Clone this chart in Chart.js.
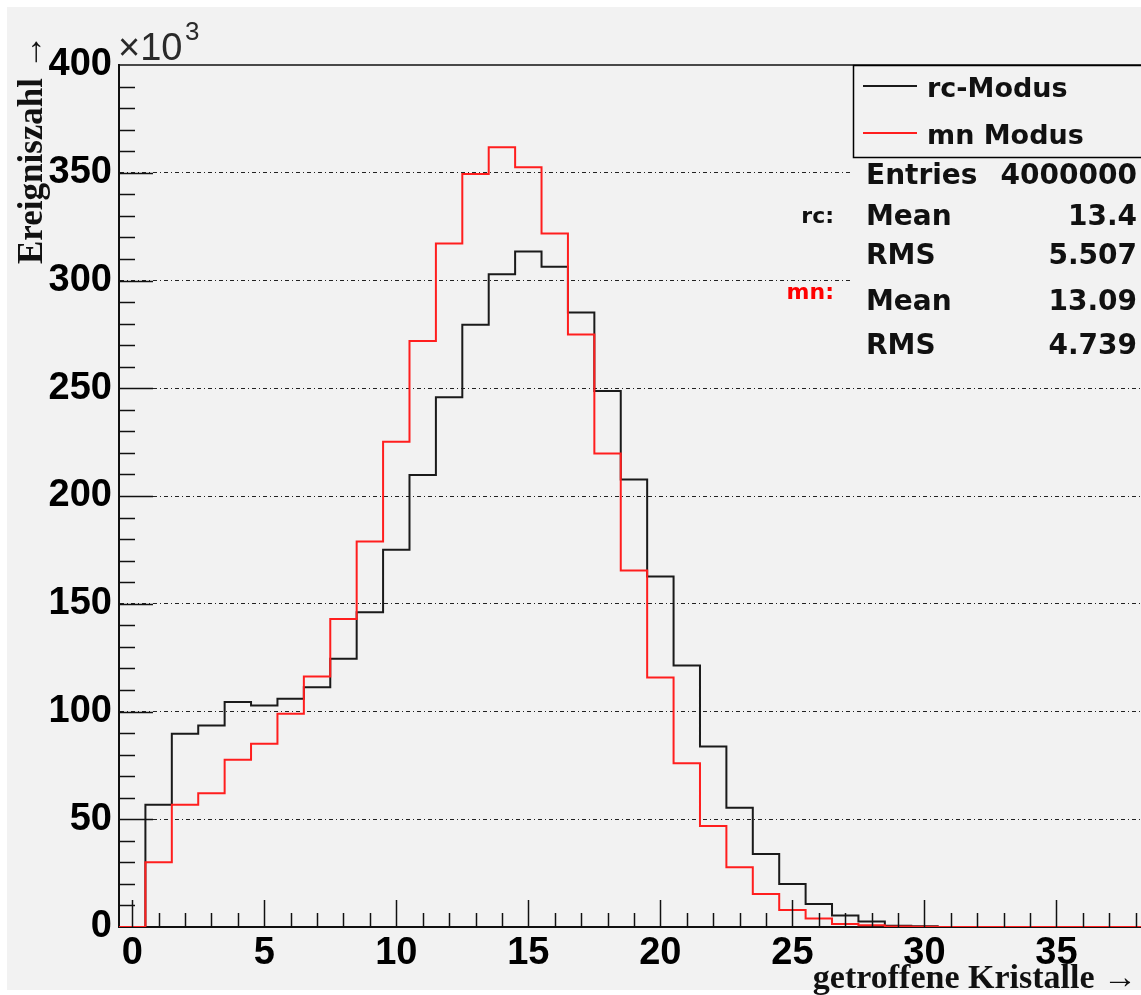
<!DOCTYPE html>
<html>
<head>
<meta charset="utf-8">
<title>getroffene Kristalle</title>
<script src="https://cdn.jsdelivr.net/npm/chart.js@4.4.0/dist/chart.umd.min.js"></script>
<style>
  body { margin: 0; background: #fff; }
  canvas { display: block; }
</style>
</head>
<body>
<canvas id="histChart" width="1141" height="995"></canvas>
<script>
// bin centres (width 1), counts in units of 10^3
let bins = [0, 1, 2, 3, 4, 5, 6, 7, 8, 9, 10, 11, 12, 13, 14, 15, 16, 17, 18, 19,
            20, 21, 22, 23, 24, 25, 26, 27, 28, 29, 30, 31, 32, 33, 34, 35, 36, 37, 38];

let rcCounts = [0, 56.7, 89.7, 93.5, 104.4, 102.8, 105.9, 111.3, 124.5, 146.0,
                175.1, 209.7, 245.8, 279.5, 302.9, 313.4, 306.4, 285.1, 248.7, 207.7,
                162.7, 121.4, 83.8, 55.3, 33.9, 20.0, 10.7, 5.3, 2.5, 0.6, 0.3];

let mnCounts = [0, 30.0, 56.7, 62.1, 77.6, 85.0, 99.0, 116.2, 142.9, 178.9,
                225.2, 271.9, 317.2, 349.4, 361.8, 352.5, 321.8, 275.0, 219.7, 165.4,
                115.8, 76.0, 46.9, 27.7, 15.3, 7.9, 4.0, 1.4, 0.8, 0.2, 0.1,
                0, 0, 0, 0, 0, 0, 0, 0];

let xTicks = [0, 5, 10, 15, 20, 25, 30, 35];
let seriesNames = ['rc-Modus', 'mn Modus'];
let statLabels = ['Entries', 'Mean', 'RMS', 'Mean', 'RMS'];
let statValues = ['4000000', '13.4', '5.507', '13.09', '4.739'];

const RED = '#ff1e1e';
const BLACK = '#1a1a1a';

// histogram outline: one point per left bin edge, last one closes the range
function histPoints(counts) {
    let pts = counts.map((c, i) => ({x: bins[i] - 0.5, y: c}));
    pts.push({x: bins[counts.length - 1] + 0.5, y: 0});
    return pts;
}

function line(c, x1, y1, x2, y2) {
    c.beginPath();
    c.moveTo(x1, y1);
    c.lineTo(x2, y2);
    c.stroke();
}

const rootStyle = {
    id: 'rootStyle',
    beforeDraw(chart) {
        const c = chart.ctx;
        c.save();
        c.fillStyle = '#ffffff';
        c.fillRect(0, 0, chart.width, chart.height);
        c.fillStyle = '#f2f2f2';
        c.fillRect(7, 7, chart.width - 7, 983);
        c.restore();
    },
    afterDatasetsDraw(chart) {
        const c = chart.ctx;
        const a = chart.chartArea;
        const x = chart.scales.x;
        const y = chart.scales.y;
        c.save();
        c.strokeStyle = '#111';
        c.lineWidth = 1.5;

        // top frame line
        line(c, a.left, a.top, a.right, a.top);

        // ticks pointing into the frame
        for (let v = 10; v < 400; v += 10) {
            const py = Math.round(y.getPixelForValue(v)) + 0.5;
            line(c, a.left, py, a.left + (v % 50 === 0 ? 34 : 16), py);
        }
        for (let v = 0; v <= x.max; v++) {
            const px = Math.round(x.getPixelForValue(v)) + 0.5;
            line(c, px, a.bottom, px, a.bottom - (v % 5 === 0 ? 27 : 14));
        }

        // stats box + legend box (cover grid lines)
        c.fillStyle = '#f2f2f2';
        c.fillRect(853, 157, chart.width - 853, 212);
        c.fillRect(853, 65, chart.width - 853, 92);
        c.strokeStyle = '#000';
        c.lineWidth = 1.5;
        c.strokeRect(853.5, 65.5, chart.width, 92);

        // legend entries
        const legendY = [86, 133];
        const legendCol = [BLACK, RED];
        c.font = 'bold 27px "DejaVu Sans"';
        c.textBaseline = 'alphabetic';
        c.textAlign = 'left';
        seriesNames.forEach((name, i) => {
            c.strokeStyle = legendCol[i];
            c.lineWidth = 2;
            line(c, 863, legendY[i], 917, legendY[i]);
            c.fillStyle = '#111';
            c.fillText(name, 927, legendY[i] + 11);
        });

        // statistics
        const rowY = [184, 225, 264, 310, 354];
        c.font = 'bold 28px "DejaVu Sans"';
        c.fillStyle = '#111';
        statLabels.forEach((lab, i) => {
            c.textAlign = 'left';
            c.fillText(lab, 866, rowY[i]);
            c.textAlign = 'right';
            c.fillText(statValues[i], 1137, rowY[i]);
        });
        c.font = 'bold 22px "DejaVu Sans"';
        c.textAlign = 'right';
        c.fillStyle = '#111';
        c.fillText('rc:', 834, 223);
        c.fillStyle = '#ff0000';
        c.fillText('mn:', 834, 299);

        // exponent of the y axis
        c.fillStyle = '#2a2a2a';
        c.textAlign = 'left';
        c.font = '38px "Liberation Sans"';
        c.fillText('\u00d710', 118, 60);
        c.font = '26px "Liberation Sans"';
        c.fillText('3', 185, 40);

        // axis titles
        c.fillStyle = '#111';
        c.font = 'bold 34px "Liberation Serif"';
        c.textAlign = 'right';
        c.fillText('getroffene Kristalle \u2192', 1137, 988);
        c.save();
        c.translate(42, 264);
        c.rotate(-Math.PI / 2);
        c.textAlign = 'left';
        c.font = 'bold 35px "Liberation Serif"';
        c.fillText('Ereigniszahl \u2192', 0, 0);
        c.restore();

        c.restore();
    }
};

let ctx = document.getElementById('histChart').getContext('2d');
let chart = new Chart(ctx, {
    type: 'line',
    data: {
        datasets: [{
            label: seriesNames[0],
            data: histPoints(rcCounts),
            stepped: 'before',
            borderColor: BLACK,
            borderWidth: 2,
            pointRadius: 0,
            fill: false,
            order: 2
        },
        {
            label: seriesNames[1],
            data: histPoints(mnCounts),
            stepped: 'before',
            borderColor: RED,
            borderWidth: 2,
            pointRadius: 0,
            fill: false,
            order: 1
        }]
    },
    options: {
        responsive: false,
        animation: false,
        devicePixelRatio: 1,
        layout: { padding: { top: 65, right: 0, bottom: 0, left: 0 } },
        plugins: {
            legend: { display: false },
            tooltip: { enabled: false }
        },
        scales: {
            x: {
                type: 'linear',
                min: -0.5,
                max: 38.2,
                grid: { display: false, drawTicks: false },
                border: { display: true, color: '#111', width: 2 },
                afterBuildTicks: scale => { scale.ticks = xTicks.map(v => ({value: v})); },
                afterFit: scale => { scale.height = 68; },
                ticks: {
                    padding: 4,
                    maxRotation: 0,
                    autoSkip: false,
                    color: '#000',
                    font: { family: 'Liberation Sans', size: 38, weight: 'bold' }
                }
            },
            y: {
                min: 0,
                max: 400,
                grid: {
                    drawTicks: false,
                    color: c => (c.tick.value === 0 || c.tick.value === 400) ? 'rgba(0,0,0,0)' : '#222',
                    lineWidth: 1
                },
                border: { display: true, color: '#111', width: 2, dash: [4, 3, 1, 3] },
                afterFit: scale => { scale.width = 119; },
                ticks: {
                    stepSize: 50,
                    padding: 7,
                    color: '#000',
                    font: { family: 'Liberation Sans', size: 38, weight: 'bold' }
                }
            }
        }
    },
    plugins: [rootStyle]
});
</script>
</body>
</html>
